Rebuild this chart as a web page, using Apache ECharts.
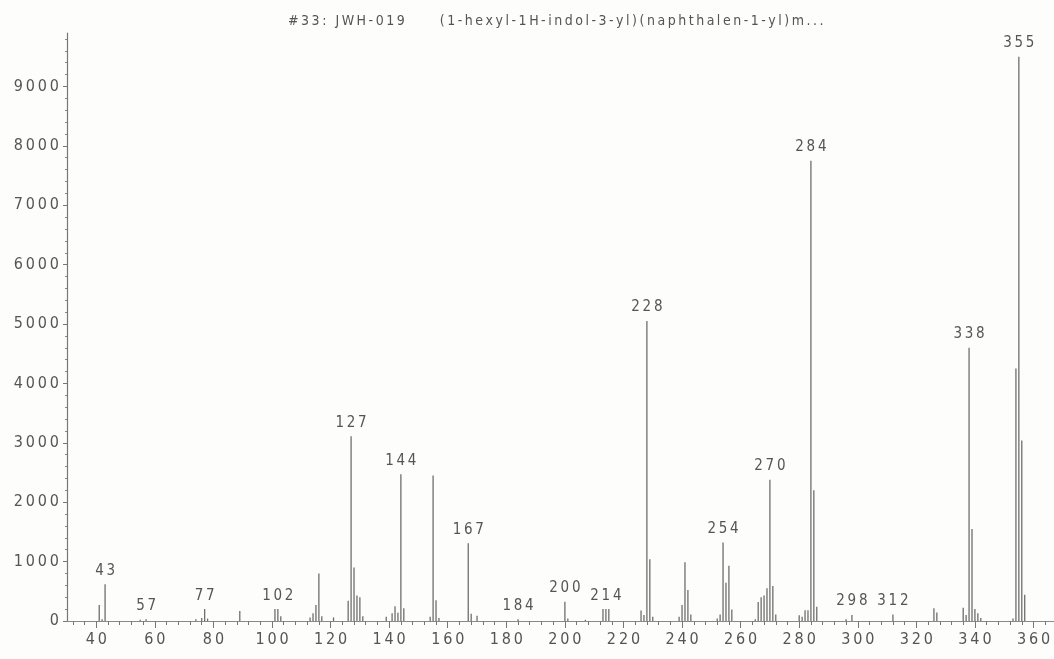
<!DOCTYPE html>
<html>
<head>
<meta charset="utf-8">
<script src="https://cdn.jsdelivr.net/npm/echarts@6/dist/echarts.min.js"></script>
<style>
  html, body { margin: 0; padding: 0; background: #fdfdfc; }
  #main { width: 1054px; height: 659px; }
</style>
</head>
<body>
<div id="main"></div>
<script>
// 质谱峰数据 m/z 和强度
var titleText = '#33: JWH-019     (1-hexyl-1H-indol-3-yl)(naphthalen-1-yl)m...';
var mz = [41, 42, 43, 55, 57, 74, 76, 77, 78, 89,
          101, 102, 103, 113, 114, 115, 116, 117, 121,
          126, 127, 128, 129, 130, 131, 139, 141, 142, 143, 144, 145,
          154, 155, 156, 157, 167, 168, 170, 184, 200, 201, 207,
          213, 214, 215, 226, 227, 228, 229, 230,
          239, 240, 241, 242, 243, 252, 253, 254, 255, 256, 257,
          265, 266, 267, 268, 269, 270, 271, 272,
          280, 281, 282, 283, 284, 285, 286, 296, 298, 312, 326, 327,
          336, 337, 338, 339, 340, 341, 342, 353, 354, 355, 356, 357];
var intensity = [270, 30, 620, 20, 30, 30, 50, 200, 40, 170,
          200, 200, 80, 60, 130, 270, 800, 80, 60,
          340, 3110, 900, 430, 400, 80, 70, 130, 250, 140, 2470, 215,
          70, 2450, 350, 50, 1310, 120, 90, 30, 325, 40, 20,
          200, 200, 200, 175, 100, 5050, 1040, 70,
          70, 270, 990, 520, 110, 40, 110, 1320, 645, 930, 195,
          30, 320, 400, 430, 550, 2380, 590, 110,
          95, 70, 180, 180, 7750, 2200, 240, 30, 100, 110, 215, 145,
          225, 100, 4600, 1550, 200, 130, 50, 40, 4250, 9500, 3040, 440];
var labeledMz = [43, 57, 77, 102, 127, 144, 167, 184, 200, 214, 228, 254, 270, 284, 298, 312, 338, 355];
var xTickLabels = [40, 60, 80, 100, 120, 140, 160, 180, 200, 220, 240, 260, 280, 300, 320, 340, 360];
var yTickLabels = [0, 1000, 2000, 3000, 4000, 5000, 6000, 7000, 8000, 9000];

var xMinor = [];
for (var v = 32; v <= 364; v += 4) { if (v % 20 !== 0) xMinor.push(v); }
var yMinor = [];
for (var w = 200; w <= 9800; w += 200) { if (w % 1000 !== 0) yMinor.push(w); }

var font = '"Liberation Sans Narrow", "DejaVu Sans Condensed", sans-serif';
function spaced(s) { return String(s).split('').join('\u2009'); }

var points = mz.map(function (m, i) {
    var item = { value: [m, intensity[i]] };
    if (labeledMz.indexOf(m) >= 0) item.label = { show: true };
    return item;
});

var myChart = echarts.init(document.getElementById('main'));
var option = {
    backgroundColor: '#fdfdfc',
    animation: false,
    title: {
        text: spaced(titleText),
        left: 283, top: 9,
        textStyle: { fontFamily: font, fontSize: 14, fontWeight: 'normal', color: '#555' }
    },
    grid: { left: 67, right: 0, top: 33, bottom: 38 },
    xAxis: [{
        type: 'value', min: 30, max: 367,
        splitLine: { show: false },
        axisLine: { lineStyle: { color: '#8a8a8a', width: 1.2 } },
        axisTick: { customValues: xTickLabels, length: 7, lineStyle: { color: '#777' } },
        axisLabel: { customValues: xTickLabels, margin: 11, fontFamily: font, fontSize: 16, color: '#555',
                     formatter: function (v) { return spaced(v); } }
    }, {
        type: 'value', min: 30, max: 367, position: 'bottom',
        splitLine: { show: false },
        axisLine: { show: false },
        axisTick: { customValues: xMinor, length: 4, lineStyle: { color: '#777' } },
        axisLabel: { show: false }
    }],
    yAxis: [{
        type: 'value', min: 0, max: 9900,
        splitLine: { show: false },
        axisLine: { show: true, lineStyle: { color: '#777', width: 1.2 } },
        axisTick: { customValues: yTickLabels, length: 4, lineStyle: { color: '#777' } },
        axisLabel: { customValues: yTickLabels, margin: 8, fontFamily: font, fontSize: 16, color: '#555',
                     formatter: function (v) { return spaced(v); } }
    }, {
        type: 'value', min: 0, max: 9900, position: 'left',
        splitLine: { show: false },
        axisLine: { show: false },
        axisTick: { customValues: yMinor, length: 2, lineStyle: { color: '#888' } },
        axisLabel: { show: false }
    }],
    series: [{
        type: 'bar',
        xAxisIndex: 0, yAxisIndex: 0,
        barWidth: 1.3,
        itemStyle: { color: '#6e6e6e' },
        label: {
            show: false, position: 'top', distance: 6,
            fontFamily: font, fontSize: 15, color: '#555',
            formatter: function (p) { return spaced(p.value[0]); }
        },
        data: points
    }]
};
myChart.setOption(option);
</script>
</body>
</html>
